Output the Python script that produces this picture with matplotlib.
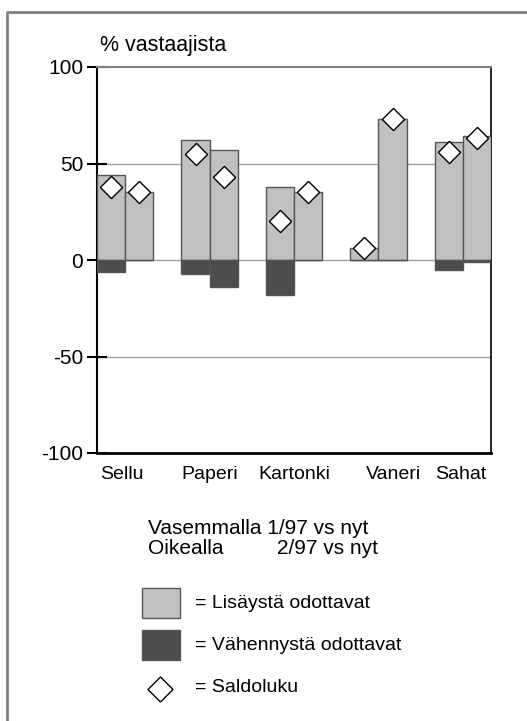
import matplotlib
matplotlib.use("Agg")
import matplotlib.pyplot as plt
from matplotlib.lines import Line2D
from matplotlib.patches import Rectangle
import numpy as np

plt.rcParams['font.family'] = ['Liberation Sans', 'DejaVu Sans']

categories = ["Sellu", "Paperi", "Kartonki", "Vaneri", "Sahat"]
inc_left = [44, 62, 38, 6, 61]
dec_left = [-6, -7, -18, 0, -5]
bal_left = [38, 55, 20, 6, 56]
inc_right = [35, 57, 35, 73, 64]
dec_right = [0, -14, 0, 0, -1]
bal_right = [35, 43, 35, 73, 63]
yticks = [-100, -50, 0, 50, 100]

light = "#c0c0c0"
dark = "#4d4d4d"

fig = plt.figure(figsize=(5.27, 7.21), dpi=100)
ax = fig.add_axes([97/527, 1-453/721, (491-97)/527, (453-67)/721])

x = np.arange(len(categories))
w = 1/3
for vals, off, col in [(inc_left, -w/2, light), (inc_right, w/2, light),
                       (dec_left, -w/2, dark), (dec_right, w/2, dark)]:
    ax.bar(x + off, vals, width=w, color=col, edgecolor="#555555", linewidth=1, zorder=3)

for vals, off in [(bal_left, -w/2), (bal_right, w/2)]:
    ax.plot(x + off, vals, linestyle="none", marker=(4, 0, 0), markersize=16,
            markerfacecolor="white", markeredgecolor="black", markeredgewidth=1, zorder=4)

for g in [50, 0, -50]:
    ax.axhline(g, color="#a0a0a0", linewidth=1, zorder=1)

ax.set_xlim(-1/3, len(categories) - 1 + 1/3)
ax.set_ylim(-100, 100)
ax.set_yticks(yticks)
ax.set_yticklabels([str(t) for t in yticks], fontsize=15)
# small horizontal label shifts (in group units) as in the original
label_shift = np.array([-0.04, 0.0, 0.01, 0.18, -0.02])
ax.set_xticks(x + label_shift)
ax.set_xticklabels(categories, fontsize=14)
ax.tick_params(axis="y", direction="inout", length=14, width=1.5, pad=3)
ax.tick_params(axis="x", length=0, pad=9)
ax.spines["left"].set_linewidth(1.5)
ax.spines["bottom"].set_linewidth(2)
ax.spines["top"].set_color("#808080")
ax.spines["top"].set_linewidth(1.5)
ax.spines["right"].set_linewidth(1.2)

fig.text(100/527, 1-45/721, "% vastaajista", fontsize=15.5, va="center", ha="left")

# explanatory text
fig.text(148/527, 1-528/721, "Vasemmalla 1/97 vs nyt", fontsize=15, va="center", ha="left")
fig.text(148/527, 1-548/721, "Oikealla", fontsize=15, va="center", ha="left")
fig.text(277/527, 1-548/721, "2/97 vs nyt", fontsize=15, va="center", ha="left")

# legend
fig.patches.append(Rectangle((142/527, 1-618/721), 38/527, 30/721, transform=fig.transFigure,
                             facecolor=light, edgecolor="#555555", linewidth=1))
fig.patches.append(Rectangle((142/527, 1-660/721), 38/527, 30/721, transform=fig.transFigure,
                             facecolor=dark, edgecolor="#555555", linewidth=1))
fig.lines.append(Line2D([160/527], [1-689/721], transform=fig.transFigure, marker=(4, 0, 0),
                        markersize=18, markerfacecolor="white", markeredgecolor="black",
                        markeredgewidth=1, linestyle="none"))
fig.text(195/527, 1-603/721, "= Lisäystä odottavat", fontsize=14, va="center", ha="left")
fig.text(195/527, 1-645/721, "= Vähennystä odottavat", fontsize=14, va="center", ha="left")
fig.text(195/527, 1-688/721, "= Saldoluku", fontsize=14, va="center", ha="left")

# outer frame (top and left)
fig.lines.append(Line2D([7/527, 7/527, 1], [0, 1-12/721, 1-12/721], transform=fig.transFigure,
                        color="#808080", linewidth=2))

fig.savefig("out.png", dpi=100)
